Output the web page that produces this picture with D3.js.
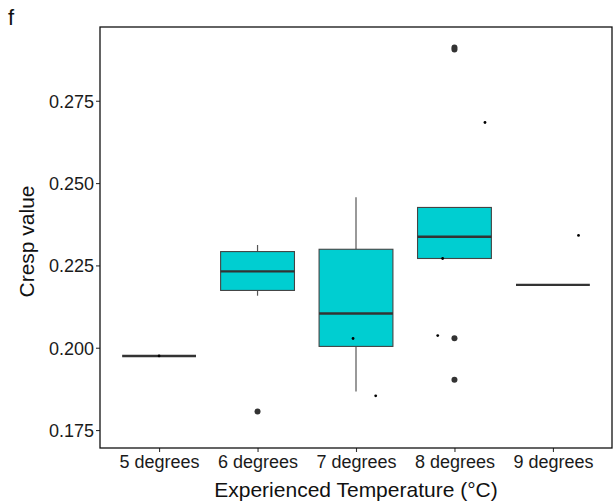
<!DOCTYPE html>
<html>
<head>
<meta charset="utf-8">
<script src="https://cdn.jsdelivr.net/npm/d3@7"></script>
<style>
  body { margin: 0; background: #fff; }
  text { font-family: "Liberation Sans", Arial, sans-serif; }
</style>
</head>
<body>
<div id="chart"></div>
<script>
// box summaries
var categories = ["5 degrees", "6 degrees", "7 degrees", "8 degrees", "9 degrees"];
var whiskerLow  = [0.1975, 0.2158, 0.1867, 0.2271, 0.2191];
var boxLower    = [0.1975, 0.2174, 0.2004, 0.2271, 0.2191];
var boxMedian   = [0.1975, 0.2232, 0.2104, 0.2337, 0.2191];
var boxUpper    = [0.1975, 0.2292, 0.2299, 0.2426, 0.2191];
var whiskerHigh = [0.1975, 0.2312, 0.2457, 0.2426, 0.2191];

// outliers: [category, value]
var outliers = [
  ["6 degrees", 0.1806],
  ["8 degrees", 0.2912],
  ["8 degrees", 0.2906],
  ["8 degrees", 0.2029],
  ["8 degrees", 0.1903]
];

// raw jittered points: [category, jitter (fraction of step), value]
var jitterPts = [
  ["5 degrees", 0.0, 0.1975],
  ["7 degrees", -0.03, 0.2028],
  ["7 degrees", 0.20, 0.1854],
  ["8 degrees", 0.31, 0.2684],
  ["8 degrees", -0.12, 0.2271],
  ["8 degrees", -0.17, 0.2037],
  ["9 degrees", 0.26, 0.2341]
];

var yTicks = [0.175, 0.200, 0.225, 0.250, 0.275];

var svgWidth = 613, svgHeight = 503;
var margin = { top: 27, right: 1, bottom: 55, left: 100 };
var width = svgWidth - margin.left - margin.right;
var height = svgHeight - margin.top - margin.bottom;

var svg = d3.select("#chart").append("svg")
  .attr("width", svgWidth)
  .attr("height", svgHeight);

var plot = svg.append("g")
  .attr("transform", `translate(${margin.left}, ${margin.top})`);

var x = d3.scalePoint().domain(categories).range([0, width]).padding(0.6);
var y = d3.scaleLinear().domain([0.16955, 0.2974]).range([height, 0]);
var boxW = x.step() * 0.75;

// axes
var leftAxis = d3.axisLeft(y).tickValues(yTicks).tickFormat(d3.format(".3f")).tickSize(4).tickPadding(2);
var bottomAxis = d3.axisBottom(x).tickSize(4).tickPadding(3);

var gy = plot.append("g").call(leftAxis);
var gx = plot.append("g").attr("transform", `translate(0, ${height})`).call(bottomAxis);
[gy, gx].forEach(function (g) {
  g.select(".domain").remove();
  g.selectAll(".tick line").attr("stroke", "#333").attr("stroke-width", 1.1);
  g.selectAll(".tick text").attr("fill", "#1a1a1a").style("font-size", "18px");
});
gy.selectAll(".tick text").attr("dy", "0.35em");

// boxes
var boxes = plot.selectAll(".box")
  .data(categories)
  .enter()
  .append("g")
  .attr("class", "box");

boxes.append("line")
  .attr("x1", d => x(d)).attr("x2", d => x(d))
  .attr("y1", (d, i) => y(whiskerHigh[i]))
  .attr("y2", (d, i) => y(boxUpper[i]))
  .attr("stroke", "#555").attr("stroke-width", 1.2);

boxes.append("line")
  .attr("x1", d => x(d)).attr("x2", d => x(d))
  .attr("y1", (d, i) => y(boxLower[i]))
  .attr("y2", (d, i) => y(whiskerLow[i]))
  .attr("stroke", "#555").attr("stroke-width", 1.2);

boxes.append("rect")
  .attr("x", d => x(d) - boxW / 2)
  .attr("y", (d, i) => y(boxUpper[i]))
  .attr("width", boxW)
  .attr("height", (d, i) => Math.max(0, y(boxLower[i]) - y(boxUpper[i])))
  .attr("fill", "#00CED1")
  .attr("stroke", "#444")
  .attr("stroke-width", 1.1);

boxes.append("line")
  .attr("x1", d => x(d) - boxW / 2).attr("x2", d => x(d) + boxW / 2)
  .attr("y1", (d, i) => y(boxMedian[i]))
  .attr("y2", (d, i) => y(boxMedian[i]))
  .attr("stroke", "#333").attr("stroke-width", 2.4);

// outliers
plot.selectAll(".outlier")
  .data(outliers)
  .enter()
  .append("circle")
  .attr("cx", d => x(d[0]))
  .attr("cy", d => y(d[1]))
  .attr("r", 3)
  .attr("fill", "#333");

// jittered points
plot.selectAll(".jit")
  .data(jitterPts)
  .enter()
  .append("circle")
  .attr("cx", d => x(d[0]) + d[1] * x.step())
  .attr("cy", d => y(d[2]))
  .attr("r", 1.4)
  .attr("fill", "#000");

// panel border
plot.append("rect")
  .attr("x", 0).attr("y", 0)
  .attr("width", width).attr("height", height)
  .attr("fill", "none")
  .attr("stroke", "#111")
  .attr("stroke-width", 1.3);

// titles
svg.append("text")
  .attr("x", margin.left + width / 2)
  .attr("y", 497)
  .attr("text-anchor", "middle")
  .style("font-size", "21px")
  .attr("fill", "#111")
  .text("Experienced Temperature (°C)");

svg.append("text")
  .attr("transform", `translate(34, ${margin.top + height / 2 + 4}) rotate(-90)`)
  .attr("text-anchor", "middle")
  .style("font-size", "21px")
  .attr("fill", "#111")
  .text("Cresp value");

svg.append("text")
  .attr("x", 8)
  .attr("y", 25)
  .style("font-size", "22px")
  .attr("fill", "#111")
  .text("f");
</script>
</body>
</html>
